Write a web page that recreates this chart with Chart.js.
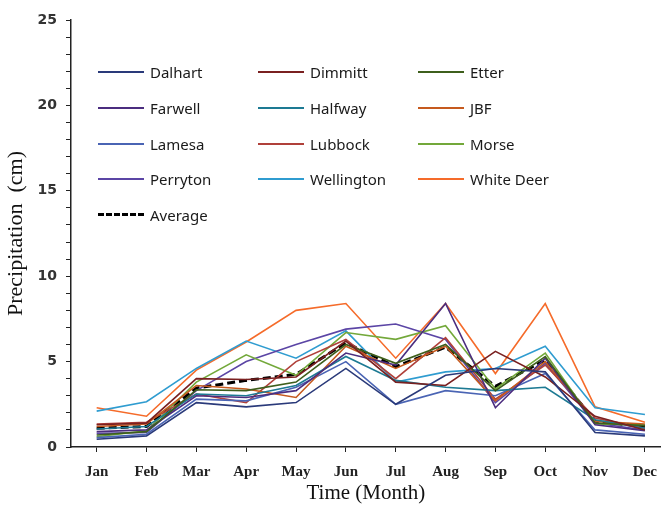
<!DOCTYPE html>
<html>
<head>
<meta charset="utf-8">
<script src="https://cdn.jsdelivr.net/npm/chart.js@4"></script>
<style>
  body { margin: 0; background: #fff; }
  #wrap { position: relative; width: 668px; height: 506px; }
  #legend { position: absolute; left: 98px; top: 62px; font-family: "Noto Sans", sans-serif; font-size: 15px; color: #1a1a1a; }
  .item { position: absolute; white-space: nowrap; height: 20px; line-height: 20px; }
  .swatch { position: absolute; left: 0; top: 9px; width: 46px; height: 0; }
  .item span { position: absolute; left: 52px; top: 0; }
</style>
</head>
<body>
<div id="wrap">
  <canvas id="precipChart" width="668" height="506"></canvas>
  <div id="legend"></div>
</div>
<script>
// months on the x axis
const months = ['Jan', 'Feb', 'Mar', 'Apr', 'May', 'Jun', 'Jul', 'Aug', 'Sep', 'Oct', 'Nov', 'Dec'];

// monthly precipitation (cm) per station
const dalhart    = [0.45, 0.65, 2.6, 2.35, 2.6, 4.6, 2.5, 4.2, 4.6, 4.4, 0.85, 0.65];
const dimmitt    = [1.3, 1.4, 4.0, 3.95, 4.1, 6.2, 3.8, 3.6, 5.6, 4.1, 1.8, 1.0];
const etter      = [0.7, 0.9, 3.35, 3.3, 3.8, 6.0, 4.9, 6.0, 3.3, 5.3, 1.4, 1.25];
const farwell    = [0.9, 1.0, 3.0, 2.9, 3.3, 5.5, 4.8, 8.4, 2.3, 5.2, 1.3, 0.95];
const halfway    = [1.05, 1.2, 3.1, 3.0, 3.6, 5.3, 3.9, 3.5, 3.3, 3.5, 1.6, 1.1];
const jbf        = [1.2, 1.35, 3.6, 3.4, 2.9, 5.9, 4.6, 5.9, 2.7, 5.0, 1.5, 1.35];
const lamesa     = [0.55, 0.75, 2.8, 2.7, 3.5, 5.0, 2.5, 3.3, 3.0, 4.3, 1.0, 0.75];
const lubbock    = [1.35, 1.45, 3.1, 2.6, 5.0, 6.3, 4.0, 6.4, 2.8, 4.8, 1.7, 1.1];
const morse      = [0.6, 0.95, 3.8, 5.4, 4.2, 6.7, 6.3, 7.1, 3.4, 5.5, 1.35, 1.3];
const perryton   = [0.8, 0.85, 3.3, 5.0, 6.0, 6.9, 7.2, 6.3, 2.6, 4.9, 1.4, 1.0];
const wellington = [2.1, 2.65, 4.6, 6.2, 5.2, 6.8, 3.8, 4.4, 4.6, 5.9, 2.3, 1.9];
const whiteDeer  = [2.3, 1.8, 4.5, 6.15, 8.0, 8.4, 5.2, 8.4, 4.3, 8.4, 2.35, 1.45];
const average    = [1.1, 1.2, 3.45, 3.9, 4.25, 6.1, 4.7, 5.85, 3.55, 5.1, 1.5, 1.2];

const stations = [
  ['Dalhart', dalhart, '#2a3a7a'],
  ['Dimmitt', dimmitt, '#7a2020'],
  ['Etter', etter, '#3e5f1c'],
  ['Farwell', farwell, '#4b2d7f'],
  ['Halfway', halfway, '#1d7a93'],
  ['JBF', jbf, '#c65a1e'],
  ['Lamesa', lamesa, '#4a64b4'],
  ['Lubbock', lubbock, '#b0403a'],
  ['Morse', morse, '#73a83a'],
  ['Perryton', perryton, '#5b45a5'],
  ['Wellington', wellington, '#2f9cd0'],
  ['White Deer', whiteDeer, '#f56b2a']
];

const toPoints = arr => arr.map((v, i) => ({ x: i + 1, y: v }));

const datasets = stations.map(([name, vals, color]) => ({
  label: name,
  data: toPoints(vals),
  borderColor: color,
  borderWidth: 1.6,
  pointRadius: 0,
  tension: 0,
  fill: false
}));
datasets.push({
  label: 'Average',
  data: toPoints(average),
  borderColor: '#000',
  borderWidth: 3,
  borderDash: [8, 4],
  pointRadius: 0,
  fill: false
});

const axisColor = '#222';

const chart = new Chart(document.getElementById('precipChart').getContext('2d'), {
  type: 'line',
  data: { datasets: datasets },
  options: {
    responsive: false,
    animation: false,
    layout: { padding: { top: 20, right: 0, left: 0, bottom: 0 } },
    plugins: { legend: { display: false }, tooltip: { enabled: false } },
    scales: {
      x: {
        type: 'linear',
        min: 0.485,
        max: 12.32,
        afterBuildTicks: s => { s.ticks = months.map((m, i) => ({ value: i + 1 })); },
        afterFit: s => { s.height = 59; },
        ticks: {
          autoSkip: false,
          maxRotation: 0,
          padding: 11,
          color: '#222',
          font: { family: '"Liberation Serif", serif', size: 15, weight: '600' },
          callback: v => months[v - 1]
        },
        grid: { drawOnChartArea: false, tickLength: 5, color: axisColor },
        border: { color: axisColor, width: 1.5 },
        title: {
          display: true,
          text: 'Time (Month)',
          color: '#111',
          font: { family: '"Liberation Serif", serif', size: 21 },
          padding: { top: 0, bottom: 0 }
        }
      },
      y: {
        min: 0,
        max: 25,
        afterFit: s => { s.width = 71; },
        afterBuildTicks: s => {
          const t = [];
          for (let v = 0; v <= 25; v++) t.push({ value: v });
          s.ticks = t;
        },
        ticks: {
          autoSkip: false,
          padding: 9,
          color: '#333',
          font: { family: '"DejaVu Sans", sans-serif', size: 14, weight: 'bold' },
          callback: v => (v % 5 === 0 ? v : '')
        },
        grid: { drawOnChartArea: false, tickLength: 5, color: axisColor },
        border: { color: axisColor, width: 1.5 },
        title: {
          display: true,
          text: 'Precipitation  (cm)',
          color: '#111',
          font: { family: '"Liberation Serif", serif', size: 22 },
          padding: { top: 3, bottom: 0 }
        }
      }
    }
  }
});

// legend in three columns inside the plot, built from the datasets
const legend = document.getElementById('legend');
datasets.forEach((ds, i) => {
  const row = Math.floor(i / 3), col = i % 3;
  const item = document.createElement('div');
  item.className = 'item';
  item.style.left = (col * 160) + 'px';
  item.style.top = (row * 35.8) + 'px';
  const sw = document.createElement('div');
  sw.className = 'swatch';
  sw.style.borderTop = ds.borderDash ? '3px dashed #000' : '2px solid ' + ds.borderColor;
  if (ds.borderDash) sw.style.top = '8px';
  const txt = document.createElement('span');
  txt.textContent = ds.label;
  item.appendChild(sw);
  item.appendChild(txt);
  legend.appendChild(item);
});
</script>
</body>
</html>
